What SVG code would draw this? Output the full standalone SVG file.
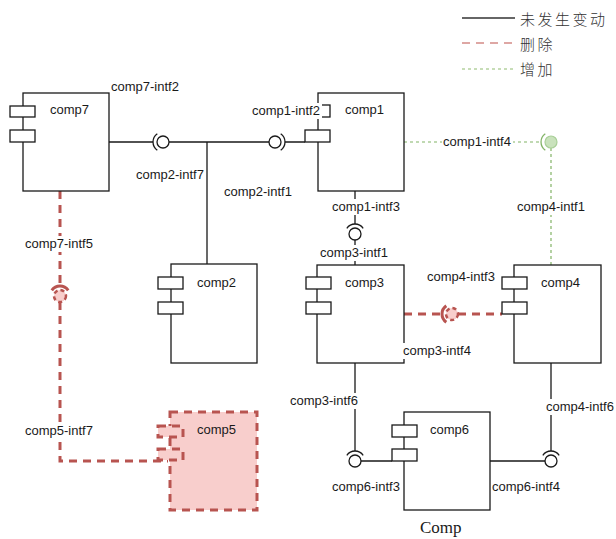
<svg xmlns="http://www.w3.org/2000/svg" width="616" height="539" viewBox="0 0 616 539">
<style>
.box{fill:#fff;stroke:#1a1a1a;stroke-width:1.3}
.port{fill:#fff;stroke:#1a1a1a;stroke-width:1.3}
.del{fill:#f8cecc;stroke:#b85450;stroke-width:3;stroke-dasharray:8 6}
.t{font-family:"Liberation Sans",Arial,sans-serif;font-size:13px;fill:#1a1a1a}
.bg{fill:#fff}
.ln{fill:none;stroke:#1a1a1a;stroke-width:1.3}
.lr{fill:none;stroke:#b85450;stroke-width:3;stroke-dasharray:8 6}
.lg{fill:none;stroke:#82b366;stroke-width:1.2;stroke-dasharray:3 3}
.sc{fill:#fff;stroke:#1a1a1a;stroke-width:1.3}
.sa{fill:none;stroke:#1a1a1a;stroke-width:1.3}
.rc{fill:#f8cecc;stroke:#b85450;stroke-width:2.5;stroke-dasharray:4 3}
.ra{fill:none;stroke:#b85450;stroke-width:3}
.gc{fill:#c9e2bc;stroke:#a9cf98;stroke-width:1.2}
.ga{fill:none;stroke:#82b366;stroke-width:1.3}
.cjk{font-family:"Noto Sans CJK SC",sans-serif;font-size:15px;font-weight:300;letter-spacing:2.5px;fill:#333}
</style>
<defs>
<path id="arc" d="M-5.7,-8.2 A10,10 0 0 0 -5.7,8.2"/>
</defs>

<g id="legend">
<line x1="462" y1="18" x2="515" y2="18" stroke="#333" stroke-width="1.3"/>
<text class="cjk" x="520" y="25">未发生变动</text>
<line x1="462" y1="43" x2="515" y2="43" stroke="#d48a86" stroke-width="1.6" stroke-dasharray="8 6"/>
<text class="cjk" x="520" y="50">删除</text>
<line x1="462" y1="69" x2="515" y2="69" stroke="#8fbc70" stroke-width="1.2" stroke-dasharray="3 3"/>
<text class="cjk" x="520" y="75">增加</text>
</g>

<g id="connectors">
<path class="ln" d="M109,142 H153 M169,142 H269 M285,142 H305 M207,142 V264"/>
<path class="ln" d="M355,191 V224 M355,240 V265"/>
<path class="ln" d="M355,363 V451 M361,461 H392"/>
<path class="ln" d="M551,363 V451 M490,461 H545"/>
<path class="lg" d="M404,142 H541 M551,148 V265"/>
<path class="lr" d="M60,191 V286 M60,302 V461 H168"/>
<path class="lr" d="M404,314 H442 M458,314 H502"/>
<g id="sock-comp2-intf7"><circle class="sc" cx="163" cy="142" r="6"/><use href="#arc" class="sa" transform="translate(163,142)"/></g>
<g id="sock-comp2-intf1"><circle class="sc" cx="275" cy="142" r="6"/><use href="#arc" class="sa" transform="translate(275,142) rotate(180)"/></g>
<g id="sock-comp1-intf3"><circle class="sc" cx="355" cy="234" r="6"/><use href="#arc" class="sa" transform="translate(355,234) rotate(90)"/></g>
<g id="sock-comp3-intf6"><circle class="sc" cx="355" cy="461" r="6"/><use href="#arc" class="sa" transform="translate(355,461) rotate(90)"/></g>
<g id="sock-comp4-intf6"><circle class="sc" cx="551" cy="461" r="6"/><use href="#arc" class="sa" transform="translate(551,461) rotate(90)"/></g>
<g id="sock-comp1-intf4"><circle class="gc" cx="551" cy="142" r="6"/><use href="#arc" class="ga" transform="translate(551,142)"/></g>
<g id="sock-comp7-intf5"><circle class="rc" cx="60" cy="296" r="6"/><use href="#arc" class="ra" transform="translate(60,296) rotate(90)"/></g>
<g id="sock-comp4-intf3"><circle class="rc" cx="452" cy="314" r="6"/><use href="#arc" class="ra" transform="translate(452,314)"/></g>
</g>

<g id="comp7">
<rect class="box" x="23" y="93" width="86" height="98"/>
<rect class="port" x="10" y="106" width="25" height="11"/>
<rect class="port" x="10" y="130" width="25" height="12"/>
<text class="t" x="50" y="114">comp7</text>
</g>
<g id="comp1">
<rect class="box" x="318" y="93" width="86" height="98"/>
<rect class="port" x="305" y="105" width="25" height="12"/>
<rect class="port" x="305" y="130" width="25" height="12"/>
<text class="t" x="345" y="114">comp1</text>
</g>
<g id="comp2">
<rect class="box" x="171" y="264" width="86" height="99"/>
<rect class="port" x="158" y="277" width="25" height="12"/>
<rect class="port" x="158" y="302" width="25" height="12"/>
<text class="t" x="197" y="287">comp2</text>
</g>
<g id="comp3">
<rect class="box" x="317" y="265" width="87" height="98"/>
<rect class="port" x="306" y="277" width="25" height="12"/>
<rect class="port" x="306" y="302" width="25" height="12"/>
<text class="t" x="345" y="287">comp3</text>
</g>
<g id="comp4">
<rect class="box" x="514" y="265" width="87" height="98"/>
<rect class="port" x="502" y="277" width="25" height="12"/>
<rect class="port" x="502" y="302" width="25" height="12"/>
<text class="t" x="541" y="287">comp4</text>
</g>
<g id="comp5">
<rect class="del" x="170" y="412" width="87" height="98"/>
<rect class="del" x="158" y="426" width="25" height="11"/>
<rect class="del" x="158" y="449" width="25" height="11"/>
<text class="t" x="197" y="434">comp5</text>
</g>
<g id="comp6">
<rect class="box" x="404" y="412" width="86" height="98"/>
<rect class="port" x="392" y="425" width="25" height="12"/>
<rect class="port" x="392" y="449" width="25" height="12"/>
<text class="t" x="430" y="434">comp6</text>
</g>

<g id="labels">
<text class="t" x="111" y="91">comp7-intf2</text>
<rect class="bg" x="250" y="103" width="72" height="16"/>
<text class="t" x="252" y="115">comp1-intf2</text>
<text class="t" x="136" y="179">comp2-intf7</text>
<text class="t" x="224" y="196">comp2-intf1</text>
<rect class="bg" x="442" y="134" width="71" height="16"/>
<text class="t" x="443" y="146">comp1-intf4</text>
<rect class="bg" x="331" y="199" width="71" height="16"/>
<text class="t" x="332" y="211">comp1-intf3</text>
<rect class="bg" x="516" y="199" width="71" height="16"/>
<text class="t" x="517" y="211">comp4-intf1</text>
<rect class="bg" x="319" y="245" width="71" height="16"/>
<text class="t" x="320" y="257">comp3-intf1</text>
<text class="t" x="427" y="281">comp4-intf3</text>
<rect class="bg" x="402" y="343" width="71" height="16"/>
<text class="t" x="403" y="355">comp3-intf4</text>
<rect class="bg" x="24" y="236" width="71" height="16"/>
<text class="t" x="25" y="248">comp7-intf5</text>
<rect class="bg" x="24" y="423" width="71" height="16"/>
<text class="t" x="25" y="435">comp5-intf7</text>
<rect class="bg" x="289" y="393" width="71" height="16"/>
<text class="t" x="290" y="405">comp3-intf6</text>
<rect class="bg" x="545" y="399" width="71" height="16"/>
<text class="t" x="546" y="411">comp4-intf6</text>
<text class="t" x="332" y="491">comp6-intf3</text>
<text class="t" x="492" y="491">comp6-intf4</text>
<text x="420" y="533" font-family="'Liberation Serif','Times New Roman',serif" font-size="17" fill="#1a1a1a">Comp</text>
</g>
</svg>
